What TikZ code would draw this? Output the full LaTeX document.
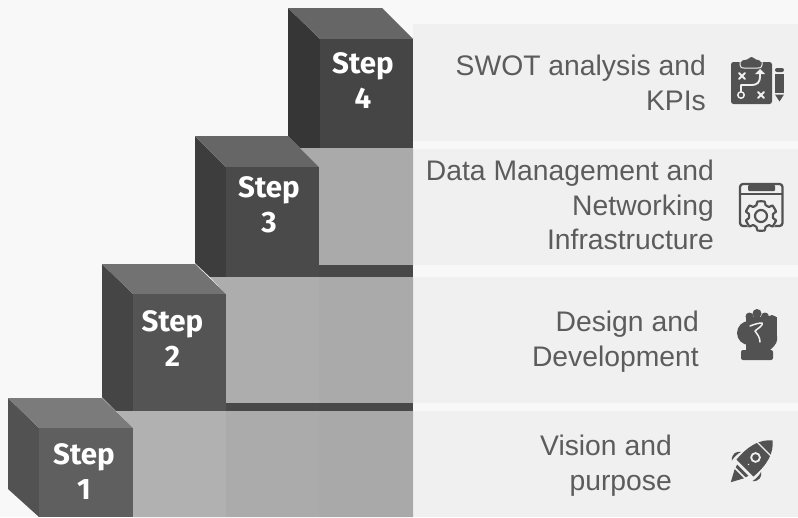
\documentclass[tikz,border=0pt]{standalone}
\usepackage{fontspec}
\setmainfont{Liberation Sans}
\newfontfamily\stepfont{Fira Sans}
\definecolor{pagebg}{HTML}{F8F8F8}
\definecolor{panelbg}{HTML}{F0F0F0}
\definecolor{lighta}{HTML}{B1B1B1}
\definecolor{lightb}{HTML}{ADADAD}
\definecolor{lightc}{HTML}{AAAAAA}
\definecolor{band}{HTML}{484848}
\definecolor{ink}{HTML}{5C5C5C}
\definecolor{icon}{HTML}{525252}
\definecolor{sideD}{HTML}{363636}
\definecolor{topD}{HTML}{666666}
\definecolor{frontD}{HTML}{454545}
\definecolor{sideC}{HTML}{3D3D3D}
\definecolor{topC}{HTML}{666666}
\definecolor{frontC}{HTML}{4A4A4A}
\definecolor{sideB}{HTML}{454545}
\definecolor{topB}{HTML}{727272}
\definecolor{frontB}{HTML}{545454}
\definecolor{sideA}{HTML}{525252}
\definecolor{topA}{HTML}{7B7B7B}
\definecolor{frontA}{HTML}{5F5F5F}
\definecolor{lightd}{HTML}{ABABAB}
\definecolor{lighte}{HTML}{A9A9A9}
\tikzset{
  panel/.style={fill=panelbg,draw=none},
  steplabel/.style={text=white,font=\stepfont\bfseries\fontsize{29.5}{35}\selectfont,align=center,inner sep=0pt},
  caption/.style={text=ink,font=\fontsize{28.3}{34.7}\selectfont,align=right,anchor=east,inner sep=0pt},
  glyph/.style={fill=icon,draw=none},
  cut/.style={draw=panelbg,line width=1.9pt,line cap=round,line join=round},
  outline/.style={draw=icon,line width=2.3pt,line join=round,fill=none},
}
\begin{document}
\begin{tikzpicture}[x=1pt,y=-1pt]
\useasboundingbox (0,0) rectangle (798,517);
\fill[pagebg] (0,0) rectangle (798,517);
% panels
\fill[panel] (413,24) rectangle (798,141);
\fill[panel] (413,149) rectangle (798,265);
\fill[panel] (413,277) rectangle (798,403);
\fill[panel] (413,411) rectangle (798,517);
% step 4
\fill[sideD] (288,8) -- (320,39) -- (320,148) -- (300,148) -- (288,136) -- cycle;
\fill[topD] (288,8) -- (382,8) -- (413,39) -- (320,39) -- cycle;
\fill[frontD] (320,39) rectangle (413,148);
% riser under step 4
\fill[lightc] (300,148) -- (319,167) -- (319,265) -- (413,265) -- (413,148) -- cycle;
\fill[band] (319,265) rectangle (413,277);
% step 3
\fill[sideC] (195,136) -- (226,167) -- (226,277) -- (210,277) -- (195,263) -- cycle;
\fill[topC] (195,136) -- (288,136) -- (319,167) -- (226,167) -- cycle;
\fill[frontC] (226,167) rectangle (319,277);
% riser under step 3
\fill[lightb] (210,277) -- (226,294) -- (226,403) -- (413,403) -- (413,277) -- cycle;
\fill[lightc] (319,277) rectangle (413,403);
\fill[band] (226,403) rectangle (413,411);
% step 2
\fill[sideB] (102,264) -- (133,294) -- (133,411) -- (116,411) -- (102,397) -- cycle;
\fill[topB] (102,264) -- (195,264) -- (226,294) -- (133,294) -- cycle;
\fill[frontB] (133,294) rectangle (226,411);
% riser under step 2
\fill[lighta] (116,411) -- (133,428) -- (133,517) -- (413,517) -- (413,411) -- cycle;
\fill[lightd] (226,411) rectangle (319,517);
\fill[lighte] (319,411) rectangle (413,517);
% step 1
\fill[sideA] (8,398) -- (39,428) -- (39,517) -- (8,489) -- cycle;
\fill[topA] (8,398) -- (102,398) -- (133,428) -- (39,428) -- cycle;
\fill[frontA] (39,428) rectangle (133,517);
% step labels
\node[steplabel] (s4) at (363,80.5) {Step\\4};
\node[steplabel] (s3) at (269,205) {Step\\3};
\node[steplabel] (s2) at (172.5,338.5) {Step\\2};
\node[steplabel] (s1) at (84,472) {Step\\1};
% captions
\node[caption] (c4) at (706,83) {SWOT analysis and\\KPIs};
\node[caption] (c3) at (714,205) {Data Management and\\Networking\\Infrastructure};
\node[caption] (c2) at (699,341.5) {Design and\\Development};
\node[caption] (c1) at (672,466) {Vision and\\purpose};
% icon: clipboard and pencil
\fill[glyph,rounded corners=2.5pt] (731,62) rectangle (772,104);
\fill[glyph,rounded corners=3pt] (741,60) -- (748,60) -- (750,57) -- (753,57) -- (755,60) -- (761,60) -- (761,67) -- (741,67) -- cycle;
\draw[panelbg,line width=1pt] (740,62) -- (740,65) .. controls (740,68) and (742,68) .. (744,68) -- (758,68) .. controls (760,68) and (762,68) .. (762,65) -- (762,62);
\draw[cut] (739,73) -- (745,79) (745,73) -- (739,79);
\draw[cut] (758,92) -- (764,98) (764,92) -- (758,98);
\draw[cut] (741,92) -- (741,85) -- (752,85) .. controls (757,85) and (760,82) .. (760,77) -- (760,73);
\fill[panelbg] (755,74) -- (760,69) -- (765,74) -- cycle;
\draw[cut,fill=icon,line width=1.5pt] (741,95) circle (3.2);
\fill[glyph,rounded corners=2pt] (775,72) -- (775,68) -- (784,68) -- (784,72) -- cycle;
\fill[glyph] (775,73.5) rectangle (784,93);
\fill[glyph] (775,94.5) -- (784,94.5) -- (779.5,101.5) -- cycle;
% icon: window and gear
\draw[outline,rounded corners=3pt] (740,184) rectangle (782.5,226);
\draw[draw=icon,line width=1.8pt] (740,194) -- (782.5,194);
\fill[glyph,rounded corners=1pt] (748,185) rectangle (775,191);
\fill[panelbg] (761,216) circle (17);
\draw[draw=icon,line width=2.2pt,line join=round,fill=panelbg]
  plot[smooth cycle,tension=0.25] coordinates {
   (757.5,201.5) (764.5,201.5) (765.5,205) (769,207) (772.5,205.5) (776,211.5) (773,214) (773,218) (776,220.5) (772.5,226.5) (769,225) (765.5,227) (764.5,230.5) (757.5,230.5) (756.5,227) (753,225) (749.5,226.5) (746,220.5) (749,218) (749,214) (746,211.5) (749.5,205.5) (753,207) (756.5,205)};
\draw[draw=icon,line width=2.2pt] (761,216) circle (6);
% icon: fist
\fill[glyph,rounded corners=2pt] (741,350) rectangle (773,360);
\fill[glyph] (746,338) rectangle (770,352);
\fill[glyph] (757,313.5) circle (4.5);
\fill[glyph] (749.5,316.5) circle (4);
\fill[glyph] (765,316.5) circle (4);
\fill[glyph] (772,320) circle (5);
\fill[glyph] (745.5,317) rectangle (777,338);
\fill[glyph] (749,333) circle (12);
\fill[glyph] (777,336) -- (777,340) .. controls (777,344) and (772,348) .. (770,350) -- (760,350) -- (760,336) -- cycle;
\draw[cut,line width=1.5pt,fill=none] (750,326) .. controls (755,324) and (759,323) .. (762,323) .. controls (764,325) and (757,329) .. (755,331) .. controls (757,334) and (760,337) .. (760,342);
% icon: rocket
\begin{scope}[shift={(752,461)},rotate=45]
\fill[glyph] (-10,-12) -- (-10,12) .. controls (8,13.5) and (21,10) .. (29,0) .. controls (21,-10) and (8,-13.5) .. (-10,-12) -- cycle;
\draw[panelbg,line width=1.3pt] (17,-12) -- (17,12);
\draw[panelbg,line width=1.8pt] (5,0) circle (4.4);
\fill[panelbg] (-5,0) circle (1);
\fill[glyph] (-13,-8) -- (-13,8) -- (-16,7) -- (-16,-7) -- cycle;
\fill[glyph] (-18,-6.5) -- (-18,6.5) -- (-30,0) -- cycle;
\fill[glyph] (-14,-14.5) .. controls (-10,-15.5) and (-5,-15.5) .. (-1,-14) .. controls (-4,-18) and (-9,-20) .. (-14,-14.5) -- cycle;
\fill[glyph] (-14,14.5) .. controls (-10,15.5) and (-5,15.5) .. (-1,14) .. controls (-4,18) and (-9,20) .. (-14,14.5) -- cycle;
\end{scope}
\end{tikzpicture}
\end{document}
